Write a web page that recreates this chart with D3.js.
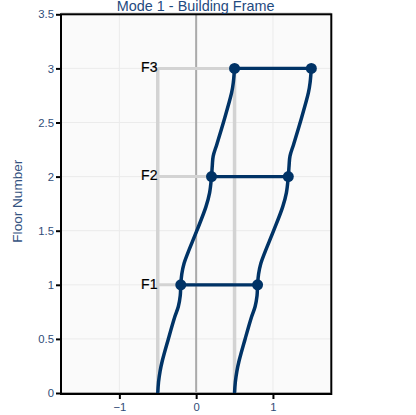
<!DOCTYPE html>
<html>
<head>
<meta charset="utf-8">
<script src="https://cdn.jsdelivr.net/npm/d3@7"></script>
<style>
  html, body { margin: 0; padding: 0; background: #fff; }
  svg { display: block; }
  text { font-family: "Liberation Sans", Arial, sans-serif; }
</style>
</head>
<body>
<svg id="chart" width="416" height="415"></svg>
<script>
const xTicks = [-1, 0, 1];
const xTickLabels = ["\u22121", "0", "1"];
const yTicks = [0, 0.5, 1, 1.5, 2, 2.5, 3, 3.5];
const yTickLabels = ["0", "0.5", "1", "1.5", "2", "2.5", "3", "3.5"];

const floorNames = ["F1", "F2", "F3"];
const floorLevels = [1, 2, 3];
const floorLeft = [-0.2, 0.2, 0.5];
const floorRight = [0.8, 1.2, 1.5];

// undeformed frame
const baseColumns = [-0.5, 0.5];
const baseLeft = -0.5;
const baseRight = 0.5;

// deformed column
const colFloors = [0, 0.1, 0.2, 0.3, 0.5, 0.7, 0.8, 0.9, 1, 1.1, 1.2, 1.3, 1.5, 1.72, 1.85, 2, 2.1, 2.19, 2.3, 2.5, 2.775, 2.87, 3];
const colLeft = [-0.5, -0.49, -0.47, -0.44, -0.362, -0.28, -0.232, -0.207, -0.2, -0.187, -0.157, -0.105, 0.009, 0.127, 0.175, 0.2, 0.21, 0.222, 0.27, 0.355, 0.462, 0.484, 0.5];
const colRight = colLeft.map(d => d + 1);

const margin = { top: 14.3, right: 85.7, bottom: 22, left: 62 };
const width = 416 - margin.left - margin.right;
const height = 415 - margin.top - margin.bottom;

const scaleX = d3.scaleLinear().domain([-1.747, 1.747]).range([0, width]);
const scaleY = d3.scaleLinear().domain([0, 3.5]).range([height, 0]);

const svg = d3.select("#chart");
const g = svg.append("g").attr("transform", `translate(${margin.left}, ${margin.top})`);

g.append("rect")
  .attr("width", width)
  .attr("height", height)
  .attr("fill", "#fafafa");

// grid
g.append("g")
  .selectAll("line")
  .data(xTicks)
  .join("line")
  .attr("x1", d => scaleX(d))
  .attr("x2", d => scaleX(d))
  .attr("y1", 0)
  .attr("y2", height)
  .attr("stroke", "#ebebeb")
  .attr("stroke-width", 1);
g.append("g")
  .selectAll("line")
  .data(yTicks)
  .join("line")
  .attr("x1", 0)
  .attr("x2", width)
  .attr("y1", d => scaleY(d))
  .attr("y2", d => scaleY(d))
  .attr("stroke", "#ebebeb")
  .attr("stroke-width", 1);

// zero lines
g.append("line")
  .attr("x1", scaleX(0))
  .attr("x2", scaleX(0))
  .attr("y1", 0)
  .attr("y2", height)
  .attr("stroke", "#aaaaaa")
  .attr("stroke-width", 2);
g.append("line")
  .attr("x1", 0)
  .attr("x2", width)
  .attr("y1", scaleY(0))
  .attr("y2", scaleY(0))
  .attr("stroke", "#aaaaaa")
  .attr("stroke-width", 2);

// undeformed frame
g.append("g")
  .selectAll("line")
  .data(baseColumns)
  .join("line")
  .attr("x1", d => scaleX(d))
  .attr("x2", d => scaleX(d))
  .attr("y1", scaleY(0))
  .attr("y2", scaleY(3))
  .attr("stroke", "#d3d3d3")
  .attr("stroke-width", 3.5);
g.append("g")
  .selectAll("line")
  .data(floorLevels)
  .join("line")
  .attr("x1", scaleX(baseLeft))
  .attr("x2", scaleX(baseRight))
  .attr("y1", d => scaleY(d))
  .attr("y2", d => scaleY(d))
  .attr("stroke", "#d3d3d3")
  .attr("stroke-width", 3);

// deformed frame
const line = d3.line()
  .x(d => scaleX(d[0]))
  .y(d => scaleY(d[1]))
  .curve(d3.curveCatmullRom.alpha(0.5));

[colLeft, colRight].forEach(col => {
  g.append("path")
    .attr("d", line(col.map((x, i) => [x, colFloors[i]])))
    .attr("fill", "none")
    .attr("stroke", "#003366")
    .attr("stroke-width", 3.5);
});

floorLevels.forEach((f, i) => {
  g.append("line")
    .attr("x1", scaleX(floorLeft[i]))
    .attr("x2", scaleX(floorRight[i]))
    .attr("y1", scaleY(f))
    .attr("y2", scaleY(f))
    .attr("stroke", "#003366")
    .attr("stroke-width", 3.2);
  [floorLeft[i], floorRight[i]].forEach(x => {
    g.append("circle")
      .attr("cx", scaleX(x))
      .attr("cy", scaleY(f))
      .attr("r", 5.5)
      .attr("fill", "#003366");
  });
  g.append("text")
    .attr("x", scaleX(baseLeft) - 0.3)
    .attr("y", scaleY(f))
    .attr("dy", "0.27em")
    .attr("text-anchor", "end")
    .attr("font-size", 14)
    .attr("stroke", "#000")
    .attr("stroke-width", 0.2)
    .attr("fill", "#000")
    .text(floorNames[i]);
});

// frame sits just outside the plot area
g.append("line")
  .attr("x1", -1)
  .attr("x2", width + 1)
  .attr("y1", -1.3)
  .attr("y2", -1.3)
  .attr("stroke", "#cccccc")
  .attr("stroke-width", 1);
g.append("rect")
  .attr("x", -1)
  .attr("y", 0)
  .attr("width", width + 2)
  .attr("height", height + 1)
  .attr("fill", "none")
  .attr("stroke", "#000")
  .attr("stroke-width", 2);

const axisLeft = d3.axisLeft(scaleY)
  .tickValues(yTicks)
  .tickFormat((d, i) => yTickLabels[i])
  .tickSize(5)
  .tickPadding(2);
const axisBottom = d3.axisBottom(scaleX)
  .tickValues(xTicks)
  .tickFormat((d, i) => xTickLabels[i])
  .tickSize(5)
  .tickPadding(4);

g.append("g").attr("transform", "translate(-1, 0)").call(axisLeft).call(styleAxis);
g.append("g").attr("transform", `translate(0, ${height + 1})`).call(axisBottom).call(styleAxis);

function styleAxis(sel) {
  sel.select(".domain").remove();
  sel.selectAll(".tick line").attr("stroke", "#000").attr("stroke-width", 2);
  sel.selectAll(".tick text")
    .attr("fill", "#2f4c78")
    .attr("font-size", 11.3)
    .attr("font-family", '"Liberation Sans", Arial, sans-serif');
}

svg.append("text")
  .attr("x", margin.left + width / 2 - 0.5)
  .attr("y", 10.5)
  .attr("text-anchor", "middle")
  .attr("font-size", 14.4)
  .attr("fill", "#1f4a80")
  .text("Mode 1 - Building Frame");

svg.append("text")
  .attr("transform", `translate(22, ${margin.top + height / 2 - 2.5}) rotate(-90)`)
  .attr("text-anchor", "middle")
  .attr("font-size", 13.6)
  .attr("fill", "#34527f")
  .text("Floor Number");
</script>
</body>
</html>
